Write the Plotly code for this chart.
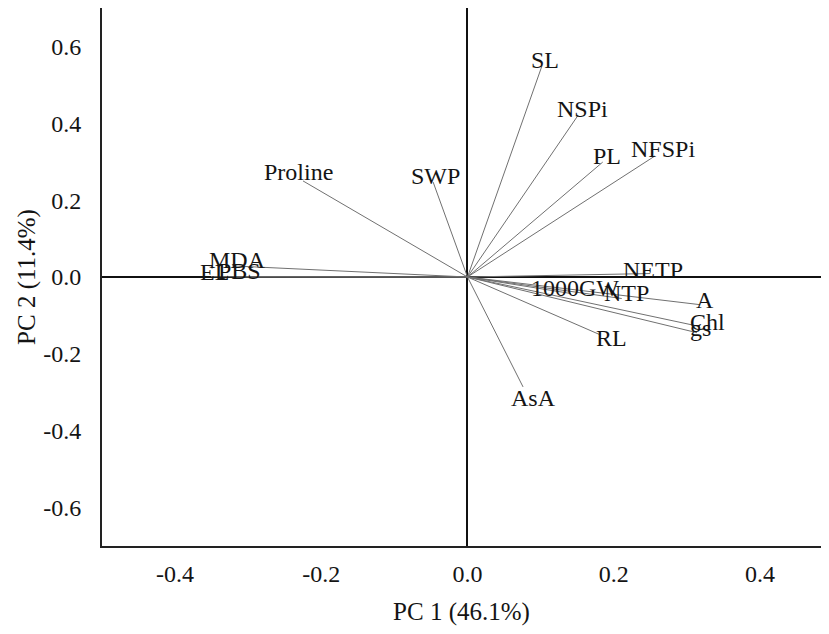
import plotly.graph_objects as go

# Variable names and PCA loadings (PC1, PC2)
variables = ["SL", "NSPi", "PL", "NFSPi", "Proline", "SWP", "AsA", "RL", "gs", "Chl",
             "A", "NTP", "1000GW", "NETP", "MDA", "EL", "PBS"]
pc1 = [0.102, 0.151, 0.185, 0.2565, -0.225, -0.047, 0.076, 0.181, 0.314, 0.318,
       0.318, 0.211, 0.1416, 0.250, -0.322, -0.351, -0.317]
pc2 = [0.550, 0.420, 0.299, 0.315, 0.250, 0.247, -0.286, -0.150, -0.145, -0.129,
       -0.072, -0.056, -0.043, 0.009, 0.029, 0.001, 0.000]

# label pixel offsets (style) relative to arrow tips
label_dx = [3, 5, 4, 8, -5, 2, 10, 12, 3, 8, 5, 5, 4, 3, 5, 4, 4]
label_dy = [6, 7, 6, 7, 9, 6, -11, -3, 5, 5, 5, 6, 6, 4, 6, 5, 6]

x_ticks = [-0.4, -0.2, 0.0, 0.2, 0.4]
y_ticks = [-0.6, -0.4, -0.2, 0.0, 0.2, 0.4, 0.6]
x_title = "PC 1 (46.1%)"
y_title = "PC 2 (11.4%)"

FONT = "Liberation Serif"

xs, ys = [], []
for a, b in zip(pc1, pc2):
    xs += [0, a, None]
    ys += [0, b, None]

fig = go.Figure()
fig.add_trace(go.Scatter(x=xs, y=ys, mode="lines",
                         line=dict(color="#707070", width=1),
                         hoverinfo="skip", showlegend=False))

for name, a, b, dx, dy in zip(variables, pc1, pc2, label_dx, label_dy):
    fig.add_annotation(x=a, y=b, text=name, showarrow=False,
                       xshift=dx, yshift=dy,
                       font=dict(family=FONT, size=24, color="#141414"))

# the page body adds an 8px margin on each side, so the figure fits inside it
fig.update_layout(
    width=813, height=618,
    margin=dict(l=94, r=0, t=0, b=80),
    plot_bgcolor="white", paper_bgcolor="white",
    showlegend=False,
    font=dict(family=FONT, size=24, color="#141414"),
)
fig.update_xaxes(range=[-0.5, 0.4836], tickvals=x_ticks,
                 ticktext=[f"{v:.1f}" for v in x_ticks],
                 showgrid=False, zeroline=True, zerolinecolor="#111", zerolinewidth=2,
                 showline=True, linecolor="#222", linewidth=2, mirror=True,
                 ticks="", ticklabelstandoff=5, automargin=False,
                 tickfont=dict(family=FONT, size=24),
                 title=dict(text=x_title, font=dict(family=FONT, size=25), standoff=21))
fig.update_yaxes(range=[-0.7, 0.7], tickvals=y_ticks,
                 ticktext=[f"{v:.1f}" for v in y_ticks],
                 showgrid=False, zeroline=True, zerolinecolor="#111", zerolinewidth=2,
                 showline=True, linecolor="#222", linewidth=2, mirror=False,
                 ticks="", ticklabelstandoff=14, automargin=False,
                 tickfont=dict(family=FONT, size=24),
                 title=dict(text=y_title, font=dict(family=FONT, size=25), standoff=0))

fig.write_html("out.html")
